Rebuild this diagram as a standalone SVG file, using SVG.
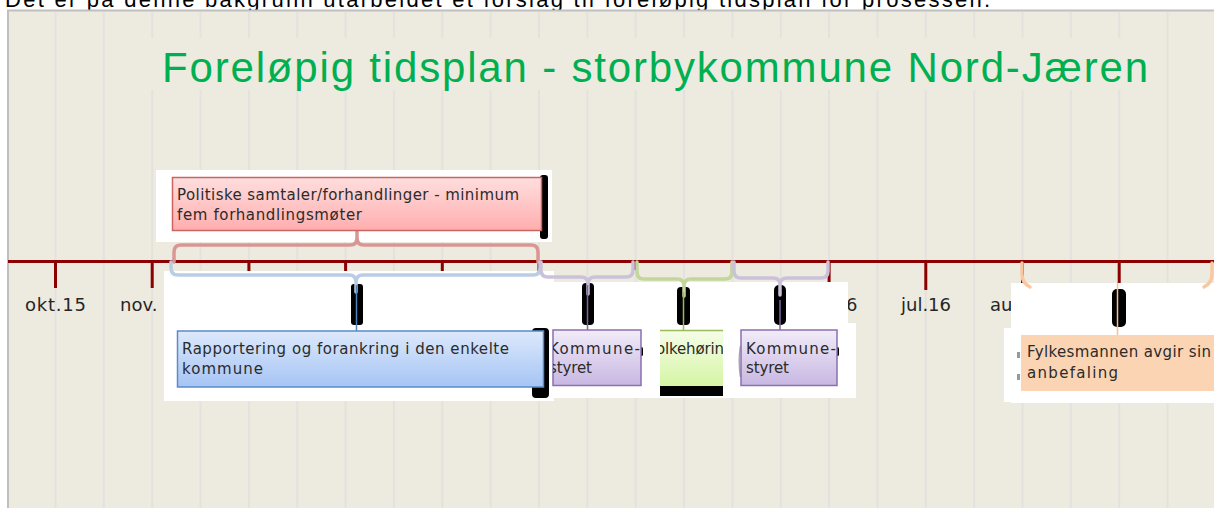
<svg xmlns="http://www.w3.org/2000/svg" width="1214" height="508" viewBox="0 0 1214 508">
  <defs>
    <style>
      .grid { stroke: #E3E2DE; stroke-width: 2; fill: none; }
      .tick { stroke: #8B0000; stroke-width: 3; fill: none; }
      .lbl { font-family: "DejaVu Sans", "Liberation Sans", sans-serif; font-size: 18px; fill: #262626; }
      .bt { font-family: "DejaVu Sans", "Liberation Sans", sans-serif; font-size: 15px; fill: #2B2B2B; }
      .wb { fill: #FFFFFF; }
      .art { fill: #000000; }
      .br { fill: none; stroke-width: 3.5; stroke-linecap: round; stroke-linejoin: round; }
      .thin { fill: none; stroke-width: 1.5; }
    </style>
    <linearGradient id="gRed" x1="0" y1="0" x2="0" y2="1">
      <stop offset="0" stop-color="#FFDEDE"/>
      <stop offset="1" stop-color="#FFAEAE"/>
    </linearGradient>
    <linearGradient id="gBlue" x1="0" y1="0" x2="0" y2="1">
      <stop offset="0" stop-color="#DDE9FB"/>
      <stop offset="1" stop-color="#A5C4F5"/>
    </linearGradient>
    <linearGradient id="gPur" x1="0" y1="0" x2="0" y2="1">
      <stop offset="0" stop-color="#F1ECF8"/>
      <stop offset="1" stop-color="#C8B7E2"/>
    </linearGradient>
    <linearGradient id="gGrn" x1="0" y1="0" x2="0" y2="1">
      <stop offset="0" stop-color="#F6FDE9"/>
      <stop offset="1" stop-color="#D5F5A4"/>
    </linearGradient>
    <clipPath id="cPur1"><rect x="553" y="330" width="88" height="56"/></clipPath>
    <clipPath id="cGrn"><rect x="660" y="330" width="63" height="56"/></clipPath>
  </defs>

  <!-- page -->
  <rect x="0" y="0" width="1214" height="508" fill="#FFFFFF"/>
  <text x="5" y="6.5" font-family="Liberation Sans, Arial, sans-serif" font-size="22" fill="#000000" textLength="985">Det er på denne bakgrunn utarbeidet et forslag til foreløpig tidsplan for prosessen.</text>

  <!-- slide frame -->
  <rect x="8" y="10.5" width="1220" height="510" fill="#EDEAE0" stroke="#BFBFBF" stroke-width="2"/>

  <!-- grid -->
  <path class="grid" d="M55.5,12V508 M103.85,12V508 M152.2,12V508 M200.55,12V508 M248.9,12V508 M297.25,12V508 M345.6,12V508 M393.95,12V508 M442.3,12V508 M490.65,12V508 M539,12V508 M587.35,12V508 M635.7,12V508 M684.05,12V508 M732.4,12V508 M780.75,12V508 M829.1,12V508 M877.45,12V508 M925.8,12V508 M974.15,12V508 M1022.5,12V508 M1070.85,12V508 M1119.2,12V508 M1167.55,12V508"/>

  <!-- title -->
  <g id="title">
    <rect x="150" y="38" width="1010" height="52" fill="#EDEAE0"/>
    <text x="162" y="82" font-family="Liberation Sans, Arial, sans-serif" font-size="42" fill="#00B050" textLength="986">Foreløpig tidsplan - storbykommune Nord-Jæren</text>
  </g>

  <!-- axis -->
  <g id="axis">
    <line x1="8" y1="261.5" x2="1214" y2="261.5" stroke="#8B0000" stroke-width="3"/>
    <path class="tick" d="M55.5,262V288 M152.2,262V288 M248.9,262V288 M345.6,262V288 M442.3,262V288 M539,262V288 M635.7,262V270 M732.4,262V270 M829.1,262V288 M925.8,262V290 M1022.5,262V288 M1119.2,262V288"/>
    <text class="lbl" x="25" y="311" textLength="61">okt.15</text>
    <text class="lbl" x="120" y="311">nov.</text>
    <text class="lbl" x="846" y="311">6</text>
    <text class="lbl" x="901" y="311" textLength="50">jul.16</text>
    <text class="lbl" x="990" y="311">au</text>
  </g>

  <!-- white backdrops -->
  <g id="backdrops">
    <rect class="wb" x="156" y="170" width="396" height="72"/>
    <rect class="wb" x="164" y="271" width="390" height="130"/>
    <rect class="wb" x="540" y="282" width="308" height="116"/>
    <rect class="wb" x="848" y="323" width="8" height="75"/>
    <rect class="wb" x="1011" y="283" width="203" height="120"/>
    <rect class="wb" x="1004" y="328" width="10" height="74"/>
  </g>

  <!-- rendering artifacts -->
  <g id="artifacts">
    <rect class="art" x="540" y="175" width="8" height="64" rx="3"/>
    <rect class="art" x="351" y="284" width="12" height="41" rx="3"/>
    <rect class="art" x="532" y="328" width="17" height="70" rx="4"/>
    <rect class="art" x="582" y="283" width="12" height="42" rx="4"/>
    <rect class="art" x="677" y="287" width="13" height="38" rx="4"/>
    <rect class="art" x="774" y="285" width="12" height="40" rx="5"/>
    <rect class="art" x="660" y="385" width="63" height="11"/>
    <rect class="art" x="1112" y="289" width="14" height="38" rx="5"/>
    <rect class="art" x="640" y="347" width="3" height="9" rx="1.5"/>
    <rect class="art" x="836" y="347" width="3" height="9" rx="1.5"/>
    <path d="M740.5,346 Q738,361 740.5,377" fill="none" stroke="#A6A6A6" stroke-width="1.5"/>
    <rect x="1017" y="352" width="3" height="6" fill="#999999"/>
    <rect x="1017" y="374" width="3" height="6" fill="#999999"/>
  </g>

  <!-- connectors -->
  <g id="connectors">
    <path class="br" stroke="#D99694" d="M174,262 V252 Q174,245 181,245 H350 Q357,245 357,238 V231 M357,238 Q357,245 364,245 H531 Q538,245 538,252 V262"/>
    <path class="br" stroke="#B9CDE5" d="M171,262 V268 Q171,275 178,275 H349 Q356,275 356,282 V292 M356,282 Q356,275 363,275 H533 Q540,275 540,268 V262"/>
    <path class="br" stroke="#CCC1DA" d="M541,262 V270 Q541,277 548,277 H581 Q588,277 588,284 V294 M588,284 Q588,277 595,277 H626 Q633,277 633,270 V262"/>
    <path class="br" stroke="#C3D69B" d="M637,262 V272 Q637,279 644,279 H677 Q684,279 684,286 V296 M684,286 Q684,279 691,279 H725 Q732,279 732,272 V262"/>
    <path class="br" stroke="#CCC1DA" d="M734,262 V271 Q734,278 741,278 H773 Q780,278 780,285 V295 M780,285 Q780,278 787,278 H821 Q828,278 828,271 V262"/>
    <path class="br" stroke="#FAC8A0" d="M1022,263 V274 Q1022,283 1030,287 M1212,263 V274 Q1212,283 1204,287"/>
    <line class="thin" stroke="#4F81BD" x1="356.5" y1="285" x2="356.5" y2="331"/>
    <line class="thin" stroke="#8064A2" x1="587.5" y1="285" x2="587.5" y2="330"/>
    <line class="thin" stroke="#9BBB59" x1="683.5" y1="292" x2="683.5" y2="330"/>
    <line class="thin" stroke="#8064A2" x1="780" y1="300" x2="780" y2="330"/>
    <line class="thin" stroke="#F9C090" x1="1117.5" y1="283" x2="1117.5" y2="335"/>
  </g>

  <!-- nodes -->
  <g id="node-politiske">
    <rect x="172.5" y="177.5" width="369" height="53" fill="url(#gRed)" stroke="#CC6562" stroke-width="1.5"/>
    <text class="bt" x="177" y="200" textLength="342">Politiske samtaler/forhandlinger - minimum</text>
    <text class="bt" x="177" y="220" textLength="185">fem forhandlingsmøter</text>
  </g>

  <g id="node-rapportering">
    <rect x="177.5" y="331" width="366" height="56" fill="url(#gBlue)" stroke="#5B8BC9" stroke-width="1.5"/>
    <text class="bt" x="182" y="354" textLength="327">Rapportering og forankring i den enkelte</text>
    <text class="bt" x="182" y="374" textLength="81">kommune</text>
  </g>

  <g id="node-kommunestyret-1">
    <rect x="553" y="330" width="88" height="55.5" fill="url(#gPur)" stroke="#8A70AE" stroke-width="1.5"/>
    <g clip-path="url(#cPur1)">
      <text class="bt" x="549" y="354" textLength="91">Kommune-</text>
      <text class="bt" x="549" y="373" textLength="43">styret</text>
    </g>
  </g>

  <g id="node-folkehoring">
    <rect x="660" y="330" width="63" height="56" fill="url(#gGrn)"/>
    <line x1="660" y1="330.5" x2="723" y2="330.5" stroke="#9BBB59" stroke-width="1.5"/>
    <g clip-path="url(#cGrn)">
      <text class="bt" x="656" y="354" textLength="68">olkehørin</text>
    </g>
  </g>

  <g id="node-kommunestyret-2">
    <rect x="741" y="330" width="96" height="55.5" fill="url(#gPur)" stroke="#8A70AE" stroke-width="1.5"/>
    <text class="bt" x="746" y="354" textLength="90">Kommune-</text>
    <text class="bt" x="746" y="373" textLength="43">styret</text>
  </g>

  <g id="node-fylkesmannen">
    <rect x="1021" y="335" width="200" height="56" fill="#FBD4B4"/>
    <text class="bt" x="1027" y="357" textLength="184">Fylkesmannen avgir sin</text>
    <text class="bt" x="1027" y="378" textLength="91">anbefaling</text>
  </g>
</svg>
